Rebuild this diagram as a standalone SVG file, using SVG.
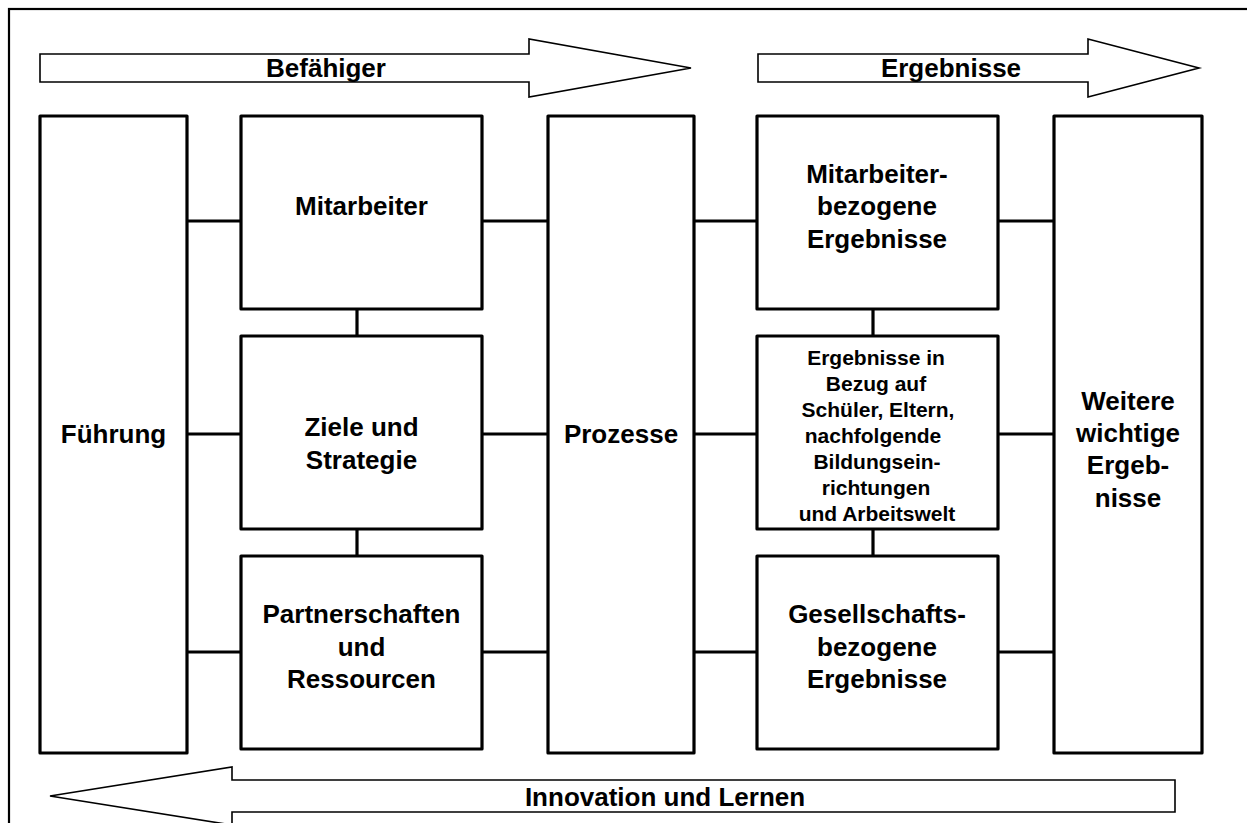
<svg xmlns="http://www.w3.org/2000/svg" width="1247" height="823" viewBox="0 0 1247 823">
<style>
.box{fill:#fff;stroke:#000;stroke-width:3.2;stroke-linejoin:round}
.arr{fill:#fff;stroke:#000;stroke-width:1.6}
.con{stroke:#000;stroke-width:3.2;fill:none}
text{font-family:"Liberation Sans",Arial,sans-serif;font-weight:bold;fill:#000;text-anchor:middle}
.t{font-size:26px}
.s{font-size:21px}
</style>
<rect x="9" y="9" width="1260" height="840" fill="#fff" stroke="#000" stroke-width="2.2"/>
<g id="arrow-befaehiger">
<polygon class="arr" points="40,54 529,54 529,39 691,68 529,97 529,82 40,82"/>
<text class="t" x="326" y="77">Befähiger</text>
</g>
<g id="arrow-ergebnisse">
<polygon class="arr" points="758,54 1088,54 1088,39 1199,68 1088,97 1088,82 758,82"/>
<text class="t" x="951" y="77">Ergebnisse</text>
</g>
<g id="arrow-innovation">
<polygon class="arr" points="50,796 232,767 232,780 1175,780 1175,812 232,812 232,825"/>
<text class="t" x="665" y="806">Innovation und Lernen</text>
</g>
<g id="connectors">
<line class="con" x1="184" y1="221" x2="241" y2="221"/>
<line class="con" x1="482" y1="221" x2="548" y2="221"/>
<line class="con" x1="694" y1="221" x2="757" y2="221"/>
<line class="con" x1="998" y1="221" x2="1054" y2="221"/>
<line class="con" x1="184" y1="434" x2="241" y2="434"/>
<line class="con" x1="482" y1="434" x2="548" y2="434"/>
<line class="con" x1="694" y1="434" x2="757" y2="434"/>
<line class="con" x1="998" y1="434" x2="1054" y2="434"/>
<line class="con" x1="184" y1="652" x2="241" y2="652"/>
<line class="con" x1="482" y1="652" x2="548" y2="652"/>
<line class="con" x1="694" y1="652" x2="757" y2="652"/>
<line class="con" x1="998" y1="652" x2="1054" y2="652"/>
<line class="con" x1="357" y1="307" x2="357" y2="338"/>
<line class="con" x1="357" y1="527" x2="357" y2="558"/>
<line class="con" x1="873" y1="307" x2="873" y2="338"/>
<line class="con" x1="873" y1="527" x2="873" y2="558"/>
</g>
<g id="fuehrung">
<rect class="box" x="40" y="116" width="147" height="637"/>
<text class="t" x="113.5" y="443">Führung</text>
</g>
<g id="mitarbeiter">
<rect class="box" x="241" y="116" width="241" height="193"/>
<text class="t" x="361.5" y="215">Mitarbeiter</text>
</g>
<g id="ziele">
<rect class="box" x="241" y="336" width="241" height="193"/>
<text class="t" x="361.5" y="436">Ziele und</text>
<text class="t" x="361.5" y="469">Strategie</text>
</g>
<g id="partnerschaften">
<rect class="box" x="241" y="556" width="241" height="193"/>
<text class="t" x="361.5" y="623">Partnerschaften</text>
<text class="t" x="361.5" y="656">und</text>
<text class="t" x="361.5" y="688">Ressourcen</text>
</g>
<g id="prozesse">
<rect class="box" x="548" y="116" width="146" height="637"/>
<text class="t" x="621" y="443">Prozesse</text>
</g>
<g id="mitarbeiter-ergebnisse">
<rect class="box" x="757" y="116" width="241" height="193"/>
<text class="t" x="877" y="183">Mitarbeiter-</text>
<text class="t" x="877" y="215">bezogene</text>
<text class="t" x="877" y="248">Ergebnisse</text>
</g>
<g id="schueler-ergebnisse">
<rect class="box" x="757" y="336" width="241" height="193"/>
<text class="s" x="876" y="365">Ergebnisse in</text>
<text class="s" x="876" y="391">Bezug auf</text>
<text class="s" x="878" y="417">Schüler, Eltern,</text>
<text class="s" x="873" y="443">nachfolgende</text>
<text class="s" x="877" y="469">Bildungsein-</text>
<text class="s" x="876" y="495">richtungen</text>
<text class="s" x="877" y="521">und Arbeitswelt</text>
</g>
<g id="gesellschaft-ergebnisse">
<rect class="box" x="757" y="556" width="241" height="193"/>
<text class="t" x="877" y="623">Gesellschafts-</text>
<text class="t" x="877" y="656">bezogene</text>
<text class="t" x="877" y="688">Ergebnisse</text>
</g>
<g id="weitere">
<rect class="box" x="1054" y="116" width="148" height="637"/>
<text class="t" x="1128" y="410">Weitere</text>
<text class="t" x="1128" y="442">wichtige</text>
<text class="t" x="1128" y="474">Ergeb-</text>
<text class="t" x="1128" y="507">nisse</text>
</g>
</svg>
